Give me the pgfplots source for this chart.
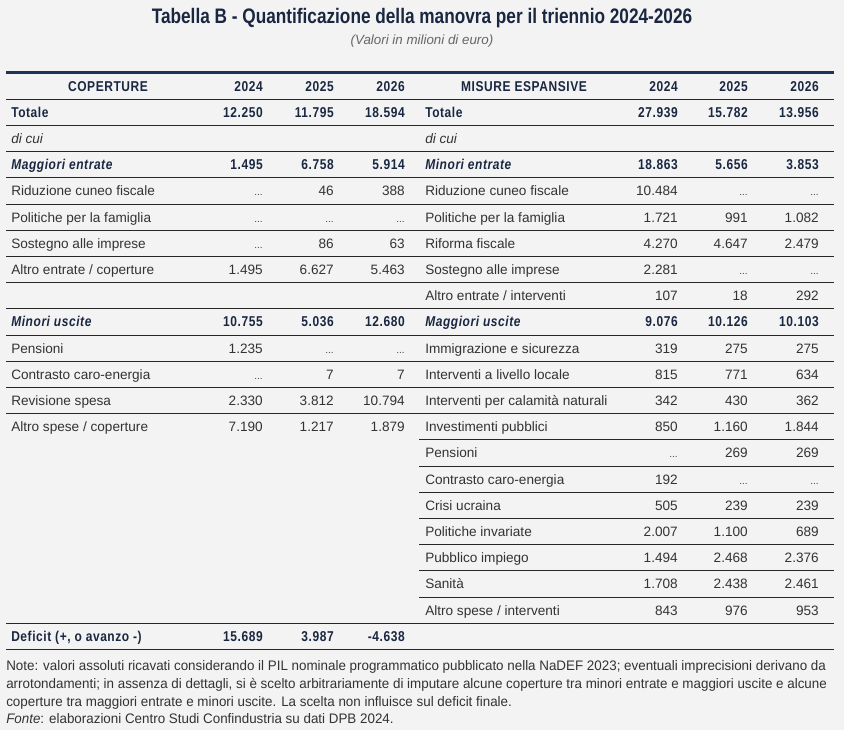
\documentclass[border=0pt]{standalone}
\usepackage{fontspec}
\setmainfont{Liberation Sans}
\newfontfamily\cb[FakeStretch=0.84,LetterSpace=4]{Liberation Sans}
\newfontfamily\ct[FakeStretch=0.82]{Liberation Sans}
\newfontfamily\cn[FakeStretch=0.97]{Liberation Sans}
\usepackage{pgfplots}
\pgfplotsset{compat=1.18}
\definecolor{bg}{HTML}{F3F3F3}
\definecolor{navy}{HTML}{1A2741}
\definecolor{rule}{HTML}{1B3556}
\definecolor{txt}{HTML}{333333}
\definecolor{sub}{HTML}{666666}
\definecolor{dots}{HTML}{444444}
\newcommand{\yb}[1]{(91.2+26.2*#1)}
\newcommand{\C}[4]{\node[anchor=#3,inner sep=0pt,text=txt] at (axis cs:#1,{\yb{#2}}) {\fontsize{10.2}{12}\selectfont #4};}
\newcommand{\CB}[4]{\node[anchor=#3,inner sep=0pt,text=navy] at (axis cs:#1,{\yb{#2}}) {\cb\bfseries\fontsize{10.7}{12}\selectfont #4};}
\newcommand{\CBI}[4]{\node[anchor=#3,inner sep=0pt,text=navy] at (axis cs:#1,{\yb{#2}}) {\cb\bfseries\itshape\fontsize{10.7}{12}\selectfont #4};}
\newcommand{\el}{{\color{dots}\fontsize{7.5}{7}\selectfont...}}
% left columns: 11 | 263 334 405 ; right: 425 | 678 748 819
\newcommand{\LR}[5]{\C{11}{#1}{base west}{#2}\C{263}{#1}{base east}{#3}\C{334}{#1}{base east}{#4}\C{405}{#1}{base east}{#5}}
\newcommand{\RR}[5]{\C{425}{#1}{base west}{#2}\C{678}{#1}{base east}{#3}\C{748}{#1}{base east}{#4}\C{819}{#1}{base east}{#5}}
\newcommand{\LB}[5]{\CB{11}{#1}{base west}{#2}\CB{263}{#1}{base east}{#3}\CB{334}{#1}{base east}{#4}\CB{405}{#1}{base east}{#5}}
\newcommand{\RB}[5]{\CB{425}{#1}{base west}{#2}\CB{678}{#1}{base east}{#3}\CB{748}{#1}{base east}{#4}\CB{819}{#1}{base east}{#5}}
\newcommand{\LBI}[5]{\CBI{11}{#1}{base west}{#2}\CB{263}{#1}{base east}{#3}\CB{334}{#1}{base east}{#4}\CB{405}{#1}{base east}{#5}}
\newcommand{\RBI}[5]{\CBI{425}{#1}{base west}{#2}\CB{678}{#1}{base east}{#3}\CB{748}{#1}{base east}{#4}\CB{819}{#1}{base east}{#5}}
\begin{document}
\begin{tikzpicture}
\begin{axis}[width=633pt,height=547.5pt,scale only axis,
  xmin=0,xmax=844,ymin=0,ymax=730,y dir=reverse,hide axis,clip=false]
\fill[bg] (axis cs:0,0) rectangle (axis cs:844,730);
% title
\node[anchor=base,inner sep=0pt,text=navy] at (axis cs:422,24)
  {\ct\bfseries\fontsize{15.75}{18}\selectfont Tabella B - Quantificazione della manovra per il triennio 2024-2026};
\node[anchor=base,inner sep=0pt,text=sub] at (axis cs:422,45)
  {\itshape\fontsize{10}{11}\selectfont (Valori in milioni di euro)};
% rules
\draw[rule,line width=2.2pt] (axis cs:6,72.7) -- (axis cs:834,72.7);
\pgfplotsinvokeforeach{0,...,12,20,21}{\draw[black!85,line width=0.75pt] (axis cs:6,{99.3+26.2*#1}) -- (axis cs:834,{99.3+26.2*#1});}
\pgfplotsinvokeforeach{13,...,19}{\draw[black!85,line width=0.75pt] (axis cs:419,{99.3+26.2*#1}) -- (axis cs:834,{99.3+26.2*#1});}
% header
\CB{108}{0.03}{base}{COPERTURE}
\CB{263}{0.03}{base east}{2024}\CB{334}{0.03}{base east}{2025}\CB{405}{0.03}{base east}{2026}
\CB{524}{0.03}{base}{MISURE ESPANSIVE}
\CB{678}{0.03}{base east}{2024}\CB{748}{0.03}{base east}{2025}\CB{819}{0.03}{base east}{2026}
% rows
\LB{1}{Totale}{12.250}{11.795}{18.594}
\RB{1}{Totale}{27.939}{15.782}{13.956}
\C{11}{2}{base west}{\itshape di cui}
\C{425}{2}{base west}{\itshape di cui}
\LBI{3}{Maggiori entrate}{1.495}{6.758}{5.914}
\RBI{3}{Minori entrate}{18.863}{5.656}{3.853}
\LR{4}{Riduzione cuneo fiscale}{\el}{46}{388}
\RR{4}{Riduzione cuneo fiscale}{10.484}{\el}{\el}
\LR{5}{Politiche per la famiglia}{\el}{\el}{\el}
\RR{5}{Politiche per la famiglia}{1.721}{991}{1.082}
\LR{6}{Sostegno alle imprese}{\el}{86}{63}
\RR{6}{Riforma fiscale}{4.270}{4.647}{2.479}
\LR{7}{Altro entrate / coperture}{1.495}{6.627}{5.463}
\RR{7}{Sostegno alle imprese}{2.281}{\el}{\el}
\RR{8}{Altro entrate / interventi}{107}{18}{292}
\LBI{9}{Minori uscite}{10.755}{5.036}{12.680}
\RBI{9}{Maggiori uscite}{9.076}{10.126}{10.103}
\LR{10}{Pensioni}{1.235}{\el}{\el}
\RR{10}{Immigrazione e sicurezza}{319}{275}{275}
\LR{11}{Contrasto caro-energia}{\el}{7}{7}
\RR{11}{Interventi a livello locale}{815}{771}{634}
\LR{12}{Revisione spesa}{2.330}{3.812}{10.794}
\RR{12}{Interventi per calamità naturali}{342}{430}{362}
\LR{13}{Altro spese / coperture}{7.190}{1.217}{1.879}
\RR{13}{Investimenti pubblici}{850}{1.160}{1.844}
\RR{14}{Pensioni}{\el}{269}{269}
\RR{15}{Contrasto caro-energia}{192}{\el}{\el}
\RR{16}{Crisi ucraina}{505}{239}{239}
\RR{17}{Politiche invariate}{2.007}{1.100}{689}
\RR{18}{Pubblico impiego}{1.494}{2.468}{2.376}
\RR{19}{Sanità}{1.708}{2.438}{2.461}
\RR{20}{Altro spese / interventi}{843}{976}{953}
\LB{21}{Deficit (+, o avanzo -)}{15.689}{3.987}{-4.638}
% notes
\node[anchor=base west,inner sep=0pt,text=txt] at (axis cs:6,671) {\cn\fontsize{10.35}{12}\selectfont Note: valori assoluti ricavati considerando il PIL nominale programmatico pubblicato nella NaDEF 2023; eventuali imprecisioni derivano da};
\node[anchor=base west,inner sep=0pt,text=txt] at (axis cs:6,689) {\cn\fontsize{10.35}{12}\selectfont arrotondamenti; in assenza di dettagli, si è scelto arbitrariamente di imputare alcune coperture tra minori entrate e maggiori uscite e alcune};
\node[anchor=base west,inner sep=0pt,text=txt] at (axis cs:6,707) {\cn\fontsize{10.35}{12}\selectfont coperture tra maggiori entrate e minori uscite. La scelta non influisce sul deficit finale.};
\node[anchor=base west,inner sep=0pt,text=txt] at (axis cs:6,724) {\cn\fontsize{10.35}{12}\selectfont \textit{Fonte}: elaborazioni Centro Studi Confindustria su dati DPB 2024.};
\end{axis}
\end{tikzpicture}
\end{document}
